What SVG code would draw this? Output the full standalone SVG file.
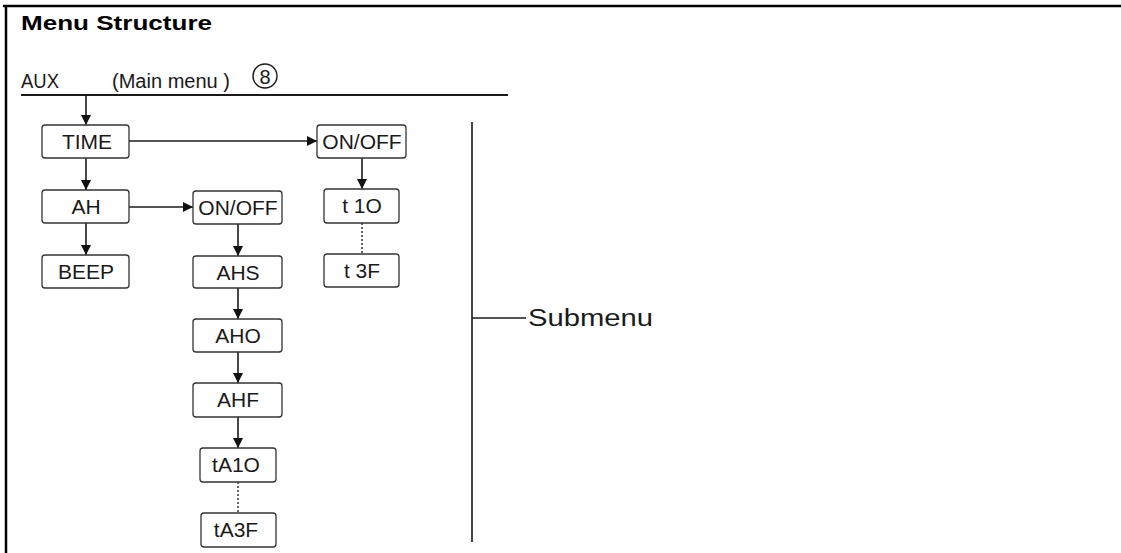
<svg xmlns="http://www.w3.org/2000/svg" width="1121" height="553" viewBox="0 0 1121 553">
<style>
.box{fill:#fff;stroke:#333;stroke-width:1.3}
.bt{font-family:"Liberation Sans",Arial,sans-serif;font-size:21px;fill:#1a1a1a;text-anchor:middle}
.ln{stroke:#1a1a1a;stroke-width:1.6;fill:none}
.dot{stroke:#333;stroke-width:1.5;stroke-dasharray:2 2;fill:none}
</style>
<defs>
<marker id="ah" viewBox="0 0 10 10" refX="10" refY="5" markerWidth="11" markerHeight="10" markerUnits="userSpaceOnUse" orient="auto">
<path d="M0,0 L10,5 L0,10 z" fill="#111"/>
</marker>
</defs>
<rect width="1121" height="553" fill="#fff"/>
<g id="frame">
<line x1="3" y1="6" x2="1121" y2="6" stroke="#000" stroke-width="2.5"/>
<line x1="6" y1="5" x2="6" y2="553" stroke="#000" stroke-width="2.5"/>
</g>
<g id="header">
<text x="21" y="30" font-family="Liberation Sans,Arial,sans-serif" font-weight="bold" font-size="21" textLength="191" lengthAdjust="spacingAndGlyphs">Menu Structure</text>
<text x="21" y="88" font-family="Liberation Sans,Arial,sans-serif" font-size="21" fill="#1a1a1a" textLength="38" lengthAdjust="spacingAndGlyphs">AUX</text>
<text x="112" y="88" font-family="Liberation Sans,Arial,sans-serif" font-size="20" fill="#1a1a1a" textLength="118" lengthAdjust="spacingAndGlyphs">(Main menu )</text>
<circle cx="265" cy="76" r="12" fill="none" stroke="#1a1a1a" stroke-width="1.4"/>
<text x="265" y="83.5" font-family="Liberation Sans,Arial,sans-serif" font-size="20" text-anchor="middle" fill="#1a1a1a">8</text>
<line x1="21" y1="95" x2="508" y2="95" stroke="#1a1a1a" stroke-width="1.8"/>
</g>
<g id="connectors">
<line class="ln" x1="86" y1="95" x2="86" y2="125" marker-end="url(#ah)"/>
<line class="ln" x1="129" y1="141" x2="317" y2="141" marker-end="url(#ah)"/>
<line class="ln" x1="86" y1="158" x2="86" y2="190" marker-end="url(#ah)"/>
<line class="ln" x1="129" y1="207" x2="193" y2="207" marker-end="url(#ah)"/>
<line class="ln" x1="86" y1="223" x2="86" y2="255" marker-end="url(#ah)"/>
<line class="ln" x1="238" y1="224" x2="238" y2="256" marker-end="url(#ah)"/>
<line class="ln" x1="238" y1="288" x2="238" y2="319" marker-end="url(#ah)"/>
<line class="ln" x1="238" y1="352" x2="238" y2="383" marker-end="url(#ah)"/>
<line class="ln" x1="238" y1="417" x2="238" y2="448" marker-end="url(#ah)"/>
<line class="dot" x1="238" y1="482" x2="238" y2="513"/>
<line class="ln" x1="362" y1="158" x2="362" y2="189" marker-end="url(#ah)"/>
<line class="dot" x1="362" y1="223" x2="362" y2="254"/>
<line class="ln" x1="472" y1="122" x2="472" y2="542" stroke-width="1.8"/>
<line class="ln" x1="472" y1="318" x2="526" y2="318"/>
</g>
<g id="n-time"><rect class="box" x="42" y="125" width="87" height="33" rx="3"/><text class="bt" x="87" y="149">TIME</text></g>
<g id="n-ah"><rect class="box" x="42" y="190" width="87" height="33" rx="3"/><text class="bt" x="86" y="214">AH</text></g>
<g id="n-beep"><rect class="box" x="42" y="255" width="87" height="33" rx="3"/><text class="bt" x="86" y="279">BEEP</text></g>
<g id="n-onoff-ah"><rect class="box" x="193" y="191" width="89" height="33" rx="3"/><text class="bt" x="238" y="215">ON/OFF</text></g>
<g id="n-ahs"><rect class="box" x="193" y="256" width="89" height="32" rx="3"/><text class="bt" x="238" y="280">AHS</text></g>
<g id="n-aho"><rect class="box" x="193" y="319" width="89" height="33" rx="3"/><text class="bt" x="238" y="343">AHO</text></g>
<g id="n-ahf"><rect class="box" x="193" y="383" width="89" height="34" rx="3"/><text class="bt" x="238" y="407">AHF</text></g>
<g id="n-ta1o"><rect class="box" x="200" y="448" width="76" height="34" rx="3"/><text class="bt" x="236" y="472">tA1O</text></g>
<g id="n-ta3f"><rect class="box" x="201" y="513" width="75" height="34" rx="3"/><text class="bt" x="236" y="537">tA3F</text></g>
<g id="n-onoff-time"><rect class="box" x="317" y="125" width="89" height="33" rx="3"/><text class="bt" x="362" y="149">ON/OFF</text></g>
<g id="n-t1o"><rect class="box" x="324" y="189" width="75" height="34" rx="3"/><text class="bt" x="362" y="213">t 1O</text></g>
<g id="n-t3f"><rect class="box" x="324" y="254" width="75" height="33" rx="3"/><text class="bt" x="362" y="278">t 3F</text></g>
<g id="label-submenu"><text x="528" y="326" font-family="Liberation Sans,Arial,sans-serif" font-size="23" fill="#1a1a1a" textLength="125" lengthAdjust="spacingAndGlyphs">Submenu</text></g>
</svg>
